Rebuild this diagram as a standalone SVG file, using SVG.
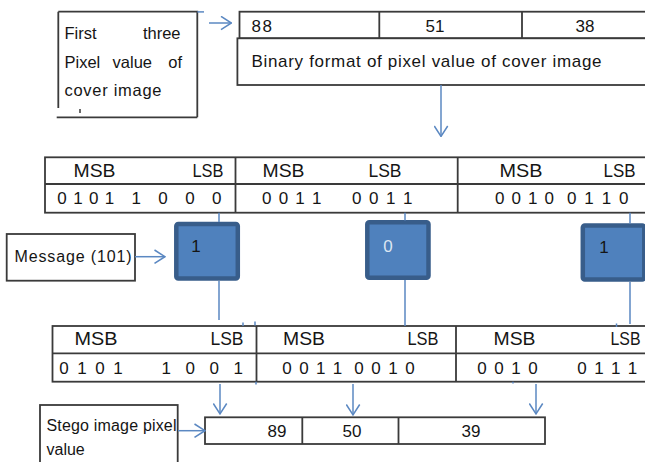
<svg xmlns="http://www.w3.org/2000/svg" width="645" height="462" viewBox="0 0 645 462">
<style>
text{font-family:"Liberation Sans",Arial,sans-serif;fill:#151515;font-size:17px}
.box{fill:#fff;stroke:#3a3a3a;stroke-width:1.8}
.ln{stroke:#3a3a3a;stroke-width:1.8;fill:none}
.con{stroke:#5b88c2;stroke-width:1.5;fill:none}
.arr{marker-end:url(#ah)}
.sq{fill:#4f81bd;stroke:#385d8a;stroke-width:4.5}
.sm{font-size:16px}
.fb{font-size:16.5px}
.mid{text-anchor:middle}
.hd{font-size:17.5px}
</style>
<defs>
<marker id="ah" viewBox="0 0 12 15" refX="11.3" refY="7.5" markerWidth="12" markerHeight="15" markerUnits="userSpaceOnUse" orient="auto">
<path d="M0.8,0.8 L11.2,7.5 L0.8,14.2" fill="none" stroke="#5b88c2" stroke-width="1.5"/>
</marker>
</defs>
<rect width="645" height="462" fill="#fff"/>

<g id="first-pixels-box">
<path class="ln" d="M58.3,11.7 H197.3 V117.3 M56.7,117.3 H197.3 M58.3,11.7 V108"/>
<path d="M80,109 V113" stroke="#3a3a3a" stroke-width="1.5"/>
<text class="fb" xml:space="preserve" y="39"><tspan x="64.5">First</tspan><tspan x="180.5" text-anchor="end"> three</tspan></text>
<text class="fb" xml:space="preserve" y="68"><tspan x="64.5">Pixel</tspan><tspan x="108"> value</tspan><tspan x="182" text-anchor="end"> of</tspan></text>
<text class="fb" x="64.5" y="96" textLength="97">cover image</text>
</g>

<g id="cover-pixel-table">
<rect class="box" x="239.5" y="11.7" width="430" height="26.6"/>
<path class="ln" d="M379.3,11.7 V38.3 M522,11.7 V38.3"/>
<text x="251.5" y="32" textLength="20.5">88</text>
<text class="mid" x="435" y="32">51</text>
<text class="mid" x="585" y="32">38</text>
</g>

<g id="binary-format-box">
<rect class="box" x="237.4" y="38.3" width="430" height="46.7"/>
<text x="251.5" y="67" textLength="350">Binary format of pixel value of cover image</text>
</g>

<g id="cover-bits-table">
<rect class="box" x="45" y="157.3" width="620" height="55.4"/>
<path class="ln" d="M45,184 H665 M235.5,157.3 V212.7 M457.7,157.3 V212.7"/>
<text class="hd" x="73.5" y="177" textLength="42" lengthAdjust="spacingAndGlyphs">MSB</text>
<text class="hd" x="192.5" y="177" textLength="31" lengthAdjust="spacingAndGlyphs">LSB</text>
<text class="hd" x="262.5" y="177" textLength="42" lengthAdjust="spacingAndGlyphs">MSB</text>
<text class="hd" x="368.5" y="177" textLength="33" lengthAdjust="spacingAndGlyphs">LSB</text>
<text class="hd" x="499.5" y="177" textLength="43" lengthAdjust="spacingAndGlyphs">MSB</text>
<text class="hd" x="603.5" y="177" textLength="32" lengthAdjust="spacingAndGlyphs">LSB</text>
<text xml:space="preserve" y="204"><tspan x="57.3" textLength="57">0 1 0 1</tspan><tspan>  </tspan><tspan x="131.5" textLength="90">1 0 0 0</tspan></text>
<text xml:space="preserve" y="204"><tspan x="262" textLength="59.5">0 0 1 1</tspan><tspan>  </tspan><tspan x="352" textLength="60.5">0 0 1 1</tspan></text>
<text xml:space="preserve" y="204"><tspan x="495" textLength="59">0 0 1 0</tspan><tspan> </tspan><tspan x="567" textLength="61.5">0 1 1 0</tspan></text>
</g>

<g id="message-box">
<rect class="box" x="6.7" y="234" width="128.3" height="46.7"/>
<text class="sm" x="14.5" y="262" textLength="117">Message (101)</text>
</g>

<g id="bit-1">
<rect class="sq" x="176.3" y="224" width="61.5" height="54.5" rx="2"/>
<text class="mid" x="196" y="252">1</text>
</g>
<g id="bit-0">
<rect class="sq" x="367.3" y="222.3" width="61.2" height="55.5" rx="2"/>
<text class="mid" x="388" y="252" style="fill:#dce6f2">0</text>
</g>
<g id="bit-1b">
<rect class="sq" x="582.8" y="225.5" width="61.5" height="54" rx="2"/>
<text class="mid" x="604" y="253">1</text>
</g>

<g id="stego-bits-table">
<rect class="box" x="52.5" y="326" width="620" height="55.7"/>
<path class="ln" d="M52.5,353.3 H672 M256.5,326 V381.7 M456,326 V381.7"/>
<text class="hd" x="74.5" y="345" textLength="43" lengthAdjust="spacingAndGlyphs">MSB</text>
<text class="hd" x="210.5" y="345" textLength="33" lengthAdjust="spacingAndGlyphs">LSB</text>
<text class="hd" x="283" y="345" textLength="42" lengthAdjust="spacingAndGlyphs">MSB</text>
<text class="hd" x="407.5" y="345" textLength="31" lengthAdjust="spacingAndGlyphs">LSB</text>
<text class="hd" x="493.5" y="345" textLength="42" lengthAdjust="spacingAndGlyphs">MSB</text>
<text class="hd" x="610.5" y="345" textLength="30" lengthAdjust="spacingAndGlyphs">LSB</text>
<text xml:space="preserve" y="374"><tspan x="59.3" textLength="63.5">0 1 0 1</tspan><tspan>    </tspan><tspan x="161.5" textLength="81.5">1 0 0 1</tspan></text>
<text xml:space="preserve" y="374"><tspan x="282.3" textLength="60">0 0 1 1</tspan><tspan> </tspan><tspan x="354.3" textLength="60.5">0 0 1 0</tspan></text>
<text xml:space="preserve" y="374"><tspan x="477.3" textLength="60.5">0 0 1 0</tspan><tspan>   </tspan><tspan x="577.3" textLength="60">0 1 1 1</tspan></text>
</g>

<g id="stego-label">
<rect class="box" x="40" y="405" width="137.7" height="70"/>
<text class="sm" x="46.5" y="430.7" textLength="130">Stego image pixel</text>
<text class="sm" x="46.5" y="455">value</text>
</g>

<g id="stego-pixel-row">
<rect class="box" x="205" y="417.3" width="340" height="26.7"/>
<path class="ln" d="M302.3,417.3 V444 M398.5,417.3 V444"/>
<text class="mid" x="277" y="437">89</text>
<text class="mid" x="352" y="437">50</text>
<text class="mid" x="471" y="437">39</text>
</g>

<g id="connectors">
<path class="con" d="M197.3,11.9 H204"/>
<path class="con arr" d="M209,23 H231.5"/>
<path class="con arr" d="M441,85 V136.5"/>
<path class="con" d="M219,212.7 V222 M219,281 V320"/>
<path class="con" d="M405,212.7 V220.5 M405,280 V326"/>
<path class="con" d="M630,212.7 V223.5 M630,282 V324"/>
<path class="con arr" d="M135,256.7 H165"/>
<path class="con arr" d="M220,384 V414"/>
<path class="con arr" d="M353,384 V415"/>
<path class="con arr" d="M536,384 V414"/>
<path class="con arr" d="M178,430.7 H205"/>
<path class="con" stroke-width="1" d="M243,322.5 V326 M255,321.5 V325.5 M256,381.7 V384.5 M616.5,323.5 V327 M513,381.7 V383.5"/>
</g>
</svg>
